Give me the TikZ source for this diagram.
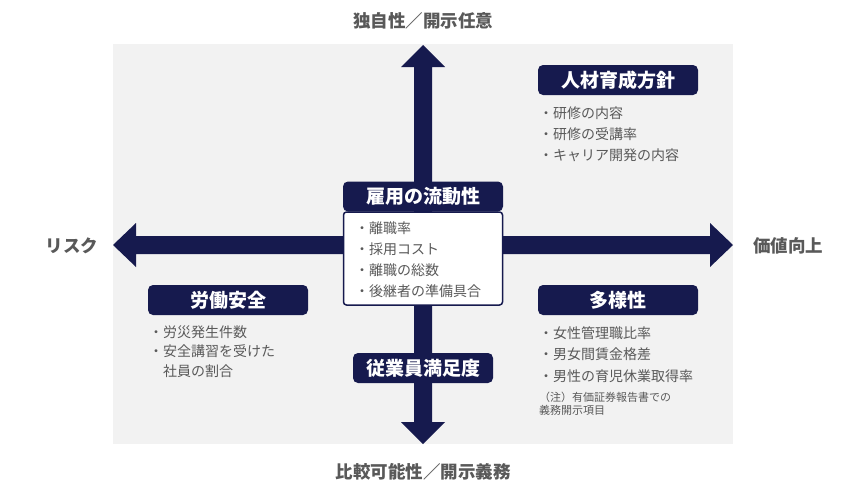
\documentclass[tikz,border=0pt]{standalone}
\usepackage{fontspec}
\setmainfont{Noto Sans CJK JP}
\usepackage{xcolor}
\usepackage{tikz}

\definecolor{navy}{HTML}{161A4E}
\definecolor{panel}{HTML}{F2F2F2}
\definecolor{txtgray}{HTML}{595959}

\tikzset{
  axislabel/.style={inner sep=0pt, text=txtgray, font=\fontsize{17.5}{20}\selectfont\bfseries},
  header/.style={fill=navy, text=white, rounded corners=5pt, inner sep=0pt,
    minimum width=160pt, minimum height=30pt, font=\fontsize{19}{22}\selectfont\bfseries},
  items/.style={align=left, inner sep=0pt, text=txtgray, font=\fontsize{14}{21}\selectfont},
  note/.style={align=left, inner sep=0pt, text=txtgray, font=\fontsize{11}{12.5}\selectfont}
}

\begin{document}
\begin{tikzpicture}[x=1pt,y=-1pt]

    % page and panel
    \fill[white] (0,0) rectangle (846,490);
    \useasboundingbox (0,0) rectangle (846,490);
    \fill[panel] (113,44) rectangle (733,444);

    % axes
    \coordinate (N) at (423,45);
    \coordinate (S) at (423,444);
    \coordinate (W) at (113,245);
    \coordinate (E) at (733,245);
    \fill[navy] (N) -- (445,67) -- (432,67) -- (432,422) -- (445,422) -- (S)
        -- (401,422) -- (414,422) -- (414,67) -- (401,67) -- cycle;
    \fill[navy] (W) -- (136,223) -- (136,236) -- (710,236) -- (710,223) -- (E)
        -- (710,267) -- (710,254) -- (136,254) -- (136,267) -- cycle;

    % axis labels
    \node[axislabel] (uplabel) at (423,20.5) {独自性／開示任意};
    \node[axislabel] (downlabel) at (423,472) {比較可能性／開示義務};
    \node[axislabel] (leftlabel) at (72,246) {リスク};
    \node[axislabel] (rightlabel) at (788,246) {価値向上};

    % centre (base anchor sits on the last line)
    \node[draw=navy, line width=1.5pt, fill=white, rounded corners=3pt,
        minimum width=159pt, minimum height=93pt] (flowbox) at (423,258.5) {};
    \node[header] (flow) at (423,196.5) {雇用の流動性};
    \node[items, anchor=base west] (flowlist) at (355,296)
        {・離職率\\・採用コスト\\・離職の総数\\・後継者の準備具合};

    % upper right
    \node[header] (hr) at (618,80) {人材育成方針};
    \node[items, anchor=base west] (hrlist) at (539,160)
        {・研修の内容\\・研修の受講率\\・キャリア開発の内容};

    % lower left
    \node[header] (safety) at (228,300) {労働安全};
    \node[items, anchor=base west, font=\fontsize{14}{19.5}\selectfont] (safetylist) at (149,376)
        {・労災発生件数\\・安全講習を受けた\\\phantom{・}社員の割合};

    % lower right
    \node[header] (diversity) at (618,300) {多様性};
    \node[items, anchor=base west, font=\fontsize{14}{21.5}\selectfont] (diversitylist) at (539,381)
        {・女性管理職比率\\・男女間賃金格差\\・男性の育児休業取得率};
    \node[note, anchor=base west] (dnote) at (539,414)
        {（注）有価証券報告書での\\義務開示項目};

    % lower middle
    \node[header, minimum width=140pt] (satisf) at (423,368) {従業員満足度};

\end{tikzpicture}
\end{document}
